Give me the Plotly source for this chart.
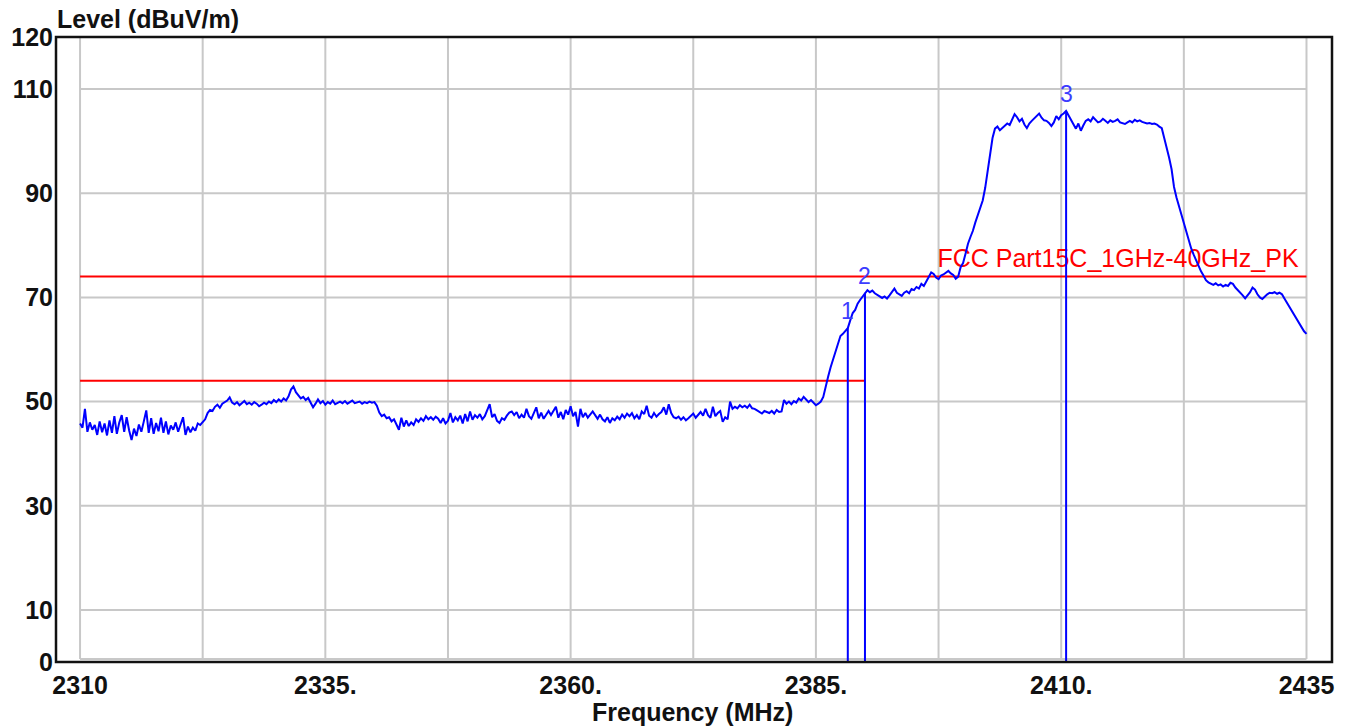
import numpy as np
import plotly.graph_objects as go

# Sweep settings (MHz)
START_MHZ = 2310.0
STEP_MHZ = 0.25

# Measured level (dBuV/m), one row per MHz starting at 2310 MHz, 4 sweep points per row
levels = [
    45.8, 45.0, 48.6, 44.2,   # 2310
    46.0, 44.6, 45.5, 43.6,
    46.2, 44.1, 45.8, 43.5,
    46.4, 44.0, 47.2, 43.8,
    46.0, 47.4, 44.2, 47.0,
    44.5, 42.6, 44.8, 43.4,   # 2315
    45.6, 44.2, 46.2, 48.3,
    44.0, 46.8, 43.8, 45.9,
    44.3, 46.9, 44.0, 46.2,
    43.7, 45.4, 44.6, 46.0,
    44.2, 45.6, 47.0, 43.6,   # 2320
    45.2, 44.1, 45.0, 44.4,
    45.8, 45.5, 46.0, 46.6,
    47.8, 48.4, 48.2, 49.0,
    49.4, 48.8, 49.6, 49.9,
    50.2, 50.8, 49.8, 49.5,   # 2325
    49.9, 49.3, 49.7, 50.1,
    49.5, 49.8, 49.4, 49.9,
    49.6, 49.1, 49.4, 49.8,
    49.5, 50.0, 49.7, 50.3,
    49.9, 50.4, 50.0, 50.6,   # 2330
    50.2, 51.0, 52.3, 52.9,
    51.8, 51.2, 50.6, 50.9,
    50.3, 50.7, 49.8, 48.9,
    49.6, 50.4, 49.7, 50.1,
    49.4, 49.9, 49.6, 50.2,   # 2335
    49.5, 49.8, 50.0, 49.7,
    50.1, 49.6, 49.9, 50.2,
    49.7, 49.9, 50.0, 49.6,
    49.9, 49.7, 50.0, 49.8,
    49.9, 49.2, 47.9, 47.2,   # 2340
    47.5, 46.8, 47.0, 46.2,
    46.6, 45.6, 44.6, 46.9,
    45.2, 46.4, 45.3, 46.0,
    45.5, 46.6, 46.1, 46.8,
    46.3, 47.2, 46.6, 47.0,   # 2345
    46.5, 47.1, 46.7, 45.9,
    46.8, 45.8, 46.3, 47.8,
    46.0, 47.0, 46.4, 47.3,
    45.8, 47.6, 46.2, 48.1,
    46.5, 47.4, 46.9, 47.6,   # 2350
    46.6, 47.2, 48.3, 49.5,
    47.0, 47.6, 46.3, 45.9,
    46.8, 46.5, 47.3, 47.9,
    48.1, 47.4, 48.0, 46.8,
    47.5, 46.9, 48.6, 47.2,   # 2355
    46.7, 47.8, 48.9, 46.8,
    47.9, 46.7, 47.5, 48.2,
    47.4, 48.3, 49.0, 46.9,
    48.0, 46.6, 48.4, 47.5,
    49.1, 47.2, 48.0, 45.2,   # 2360
    48.6, 47.0, 47.8, 46.9,
    47.6, 48.1, 47.4, 46.7,
    47.5, 46.6, 46.2, 47.0,
    45.9, 46.8, 46.4, 47.1,
    46.6, 47.5, 46.9, 47.7,   # 2365
    47.2, 47.8, 46.8, 47.4,
    46.6, 48.1, 47.6, 49.2,
    47.3, 46.9, 47.8, 47.1,
    47.6, 48.0, 48.9, 47.5,
    49.5, 47.8, 47.0, 46.8,   # 2370
    47.1, 46.5, 47.0, 46.4,
    46.8, 47.2, 47.7, 46.9,
    47.5, 48.0, 47.3, 48.6,
    47.4, 46.9, 49.0, 47.2,
    47.8, 48.2, 46.1, 47.0,   # 2375
    46.6, 50.0, 48.6, 49.0,
    48.7, 49.3, 48.9, 49.2,
    48.8, 49.4, 48.7, 48.6,
    48.3, 48.0, 47.7, 48.2,
    48.0, 47.8, 48.2, 47.7,   # 2380
    48.4, 48.0, 48.1, 50.3,
    49.6, 50.0, 49.5, 50.1,
    49.8, 50.6, 50.2, 50.9,
    50.4, 49.9, 50.3, 49.7,
    49.3, 49.6, 50.0, 50.9,   # 2385
    52.6, 54.8, 56.6, 58.2,
    59.6, 61.4, 62.6, 63.0,
    63.6, 64.1, 65.6, 67.0,
    67.6, 68.8, 69.5, 70.2,
    70.9, 71.4, 71.0, 71.3,   # 2390
    70.8, 70.5, 70.1, 69.9,
    70.2, 69.8, 70.4, 71.0,
    71.7, 70.9, 70.6, 70.3,
    70.9, 71.2, 70.8, 71.6,
    71.4, 72.0, 71.7, 72.6,   # 2395
    72.2, 73.0, 73.8, 74.8,
    74.5, 73.8, 73.5, 74.2,
    74.4, 74.8, 75.1, 74.6,
    74.3, 73.6, 74.0, 75.8,
    76.6, 78.4, 80.3, 81.6,   # 2400
    82.8, 84.4, 85.8, 86.8,
    88.6, 91.0, 94.5, 97.6,
    100.6, 102.4, 102.8, 102.1,
    102.5, 102.9, 103.4, 103.1,
    104.2, 105.2, 104.6, 103.8,   # 2405
    104.3, 103.2, 102.5, 103.4,
    103.9, 104.4, 104.8, 105.3,
    104.5, 104.0, 103.9, 103.5,
    102.9, 103.6, 104.8, 104.2,
    105.0, 105.3, 105.8, 104.9,   # 2410
    103.9, 103.2, 102.4, 103.4,
    102.0, 103.0, 103.9, 104.2,
    103.8, 104.6, 104.1, 103.6,
    103.8, 104.3, 103.9, 103.5,
    104.0, 103.7, 103.9, 104.2,   # 2415
    103.6, 103.4, 103.3, 103.6,
    103.9, 103.6, 104.1, 103.8,
    104.0, 103.7, 103.6, 103.4,
    103.5, 103.3, 103.4, 103.2,
    102.8, 102.5, 100.6, 98.8,    # 2420
    96.8, 94.6, 91.2, 89.2,
    87.6, 86.0, 84.1, 82.6,
    80.8, 79.4, 78.2, 77.1,
    75.9, 75.0, 74.2, 73.3,
    72.9, 72.6, 72.4, 72.7,       # 2425
    72.3, 72.5, 72.1, 72.4,
    72.2, 72.8, 72.6, 71.9,
    71.4, 71.1, 70.4, 69.8,
    70.3, 71.0, 71.9, 71.5,
    70.6, 70.0, 69.7, 70.2,       # 2430
    70.6, 70.9, 70.8, 71.0,
    70.7, 70.9, 70.6, 69.8,
    69.0, 68.2, 67.3, 66.5,
    65.8, 65.0, 64.3, 63.5,
    63.0,                         # 2435
]
freqs = START_MHZ + STEP_MHZ * np.arange(len(levels))

# Limit lines
limit_levels = [74.0, 54.0]
limit_start = [2310.0, 2310.0]
limit_stop = [2435.0, 2390.0]
limit_name = "FCC Part15C_1GHz-40GHz_PK"

# Markers
marker_ids = ["1", "2", "3"]
marker_freqs = [2388.25, 2390.0, 2410.5]
marker_levels = [64.1, 70.9, 105.8]

# Axis ticks
x_tick_vals = [2310, 2335, 2360, 2385, 2410, 2435]
x_tick_text = ["2310", "2335.", "2360.", "2385.", "2410.", "2435"]
y_tick_vals = [0, 10, 30, 50, 70, 90, 110, 120]
x_grid = [2310 + 12.5 * k for k in range(11)]
y_grid = [10, 30, 50, 70, 90, 110]

FONT = "Liberation Sans, Arial, sans-serif"
GRID_COLOR = "#c8c8c8"
BLUE = "#0000ff"
RED = "#ff0000"
INK = "#111111"

fig = go.Figure()

# Grid
shapes = []
for gx in x_grid:
    shapes.append(dict(type="line", xref="x", yref="y", x0=gx, x1=gx, y0=0.6, y1=120,
                       line=dict(color=GRID_COLOR, width=2), layer="below"))
for gy in y_grid + [0.6]:
    shapes.append(dict(type="line", xref="x", yref="y", x0=2310, x1=2435, y0=gy, y1=gy,
                       line=dict(color=GRID_COLOR, width=2), layer="below"))
# Frame
shapes.append(dict(type="rect", xref="paper", yref="paper", x0=0, x1=1, y0=0, y1=1,
                   line=dict(color=INK, width=2.5), layer="above"))

# Limit lines
for lv, x0, x1 in zip(limit_levels, limit_start, limit_stop):
    fig.add_trace(go.Scatter(x=[x0, x1], y=[lv, lv], mode="lines",
                             line=dict(color=RED, width=2), hoverinfo="skip"))

# Limit label (as a text trace so the spectrum draws over it)
fig.add_trace(go.Scatter(x=[2434.2], y=[77.0], mode="text", text=[limit_name],
                         textposition="middle left",
                         textfont=dict(family=FONT, size=25, color=RED), hoverinfo="skip"))

# Spectrum trace
fig.add_trace(go.Scatter(x=freqs, y=levels, mode="lines",
                         line=dict(color=BLUE, width=2), hoverinfo="skip"))

# Marker lines
mx, my = [], []
for f, lv in zip(marker_freqs, marker_levels):
    mx += [f, f, None]
    my += [0, lv, None]
fig.add_trace(go.Scatter(x=mx, y=my, mode="lines", line=dict(color=BLUE, width=2),
                         hoverinfo="skip"))

annotations = []
for mid, f, lv in zip(marker_ids, marker_freqs, marker_levels):
    annotations.append(dict(x=f, y=lv, xref="x", yref="y", text=mid, showarrow=False,
                            xanchor="center", yanchor="middle", yshift=17,
                            font=dict(family=FONT, size=23, color="#3c3cff")))

annotations.append(dict(x=-0.001, y=1.029, xref="paper", yref="paper",
                        text="<b>Level (dBuV/m)</b>", showarrow=False,
                        xanchor="left", yanchor="middle",
                        font=dict(family=FONT, size=25, color=INK)))
annotations.append(dict(x=0.4992, y=-0.0793, xref="paper", yref="paper",
                        text="<b>Frequency (MHz)</b>", showarrow=False,
                        xanchor="center", yanchor="middle",
                        font=dict(family=FONT, size=25, color=INK)))

fig.update_layout(
    width=1355, height=726,
    margin=dict(l=56, r=23, t=37, b=64, pad=0),
    paper_bgcolor="white", plot_bgcolor="white",
    showlegend=False,
    shapes=shapes,
    annotations=annotations,
    xaxis=dict(range=[2307.55, 2437.6], showgrid=False, zeroline=False, showline=False,
               tickmode="array", tickvals=x_tick_vals, ticktext=x_tick_text, ticks="",
               ticklabelstandoff=6,
               tickfont=dict(family=FONT, size=25, color=INK, weight="bold")),
    yaxis=dict(range=[0, 120], showgrid=False, zeroline=False, showline=False,
               tickmode="array", tickvals=y_tick_vals, ticks="",
               ticklabelstandoff=2,
               tickfont=dict(family=FONT, size=25, color=INK, weight="bold")),
)

fig.write_html("out.html")
